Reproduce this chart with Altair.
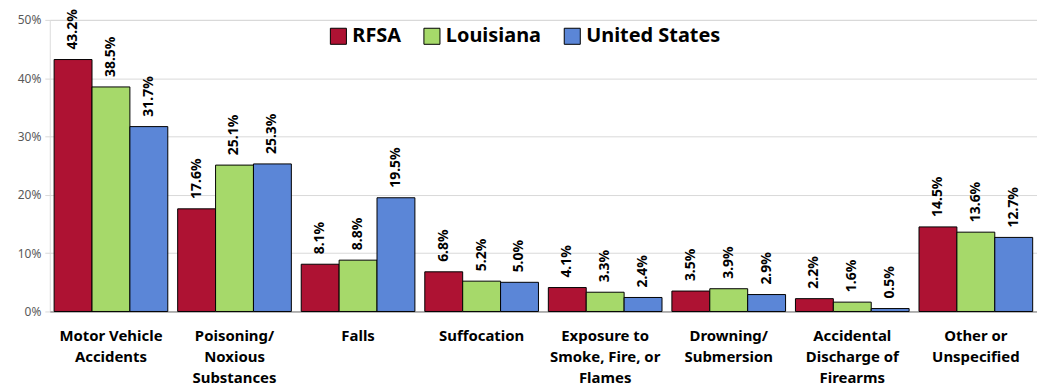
import altair as alt
import pandas as pd

categories = [
    "Motor Vehicle|Accidents",
    "Poisoning/|Noxious|Substances",
    "Falls",
    "Suffocation",
    "Exposure to|Smoke, Fire, or|Flames",
    "Drowning/|Submersion",
    "Accidental|Discharge of|Firearms",
    "Other or|Unspecified",
]
series = ["RFSA", "Louisiana", "United States"]
rfsa = [43.2, 17.6, 8.1, 6.8, 4.1, 3.5, 2.2, 14.5]
louisiana = [38.5, 25.1, 8.8, 5.2, 3.3, 3.9, 1.6, 13.6]
united_states = [31.7, 25.3, 19.5, 5.0, 2.4, 2.9, 0.5, 12.7]
colors = ["#AE1233", "#A6D96A", "#5B86D7"]

rows = []
for name, vals in zip(series, [rfsa, louisiana, united_states]):
    for c, v in zip(categories, vals):
        rows.append({"category": c, "series": name, "value": v, "label": f"{v:.1f}%"})
df = pd.DataFrame(rows)

FONT = "Noto Sans"

x = alt.X(
    "category:N",
    sort=categories,
    scale=alt.Scale(paddingInner=0.08, paddingOuter=0.035),
    axis=alt.Axis(
        title=None,
        labelAngle=0,
        labelExpr="split(datum.label, '|')",
        labelFont=FONT,
        labelFontSize=15,
        labelFontWeight="bold",
        labelColor="#000000",
        labelLineHeight=21,
        labelPadding=17,
        labelLimit=200,
        ticks=False,
        domainColor="#808080",
        domainWidth=1,
        grid=False,
    ),
)
xoff = alt.XOffset("series:N", sort=series)
y = alt.Y(
    "value:Q",
    scale=alt.Scale(domain=[0, 50], nice=False),
    axis=alt.Axis(
        title=None,
        values=[0, 10, 20, 30, 40, 50],
        labelExpr="datum.value + '%'",
        labelFont=FONT,
        labelFontSize=12,
        labelColor="#595959",
        labelPadding=4,
        domain=False,
        ticks=True,
        tickSize=5,
        tickColor="#D9D9D9",
        gridColor="#D9D9D9",
        gridWidth=1,
    ),
)

bars = alt.Chart(df).mark_bar(stroke="#000000", strokeWidth=1).encode(
    x=x,
    xOffset=xoff,
    y=y,
    color=alt.Color(
        "series:N",
        sort=series,
        scale=alt.Scale(domain=series, range=colors),
        legend=alt.Legend(
            title=None,
            orient="none",
            legendX=280,
            legendY=6,
            direction="horizontal",
            symbolType="square",
            symbolSize=260,
            symbolStrokeColor="#000000",
            symbolStrokeWidth=1,
            symbolOpacity=1,
            labelFont=FONT,
            labelFontSize=20,
            labelFontWeight="bold",
            labelColor="#000000",
            columnPadding=20,
            labelOffset=4,
        ),
    ),
)

labels = alt.Chart(df).mark_text(
    angle=270,
    align="left",
    baseline="middle",
    dx=10,
    font=FONT,
    fontSize=14,
    fontWeight="bold",
    color="#000000",
).encode(
    x=x,
    xOffset=xoff,
    y=alt.Y("value:Q", scale=alt.Scale(domain=[0, 50], nice=False)),
    text="label:N",
)

chart = (
    alt.layer(bars, labels)
    .properties(
        width=992,
        height=293,
        padding={"left": 42, "top": 11, "right": 0, "bottom": 85},
        autosize=alt.AutoSizeParams(type="none"),
    )
    .configure_view(stroke=None)
    .configure(background="#FFFFFF")
)

chart.save("out.html", embed_options={"renderer": "svg", "actions": False})
